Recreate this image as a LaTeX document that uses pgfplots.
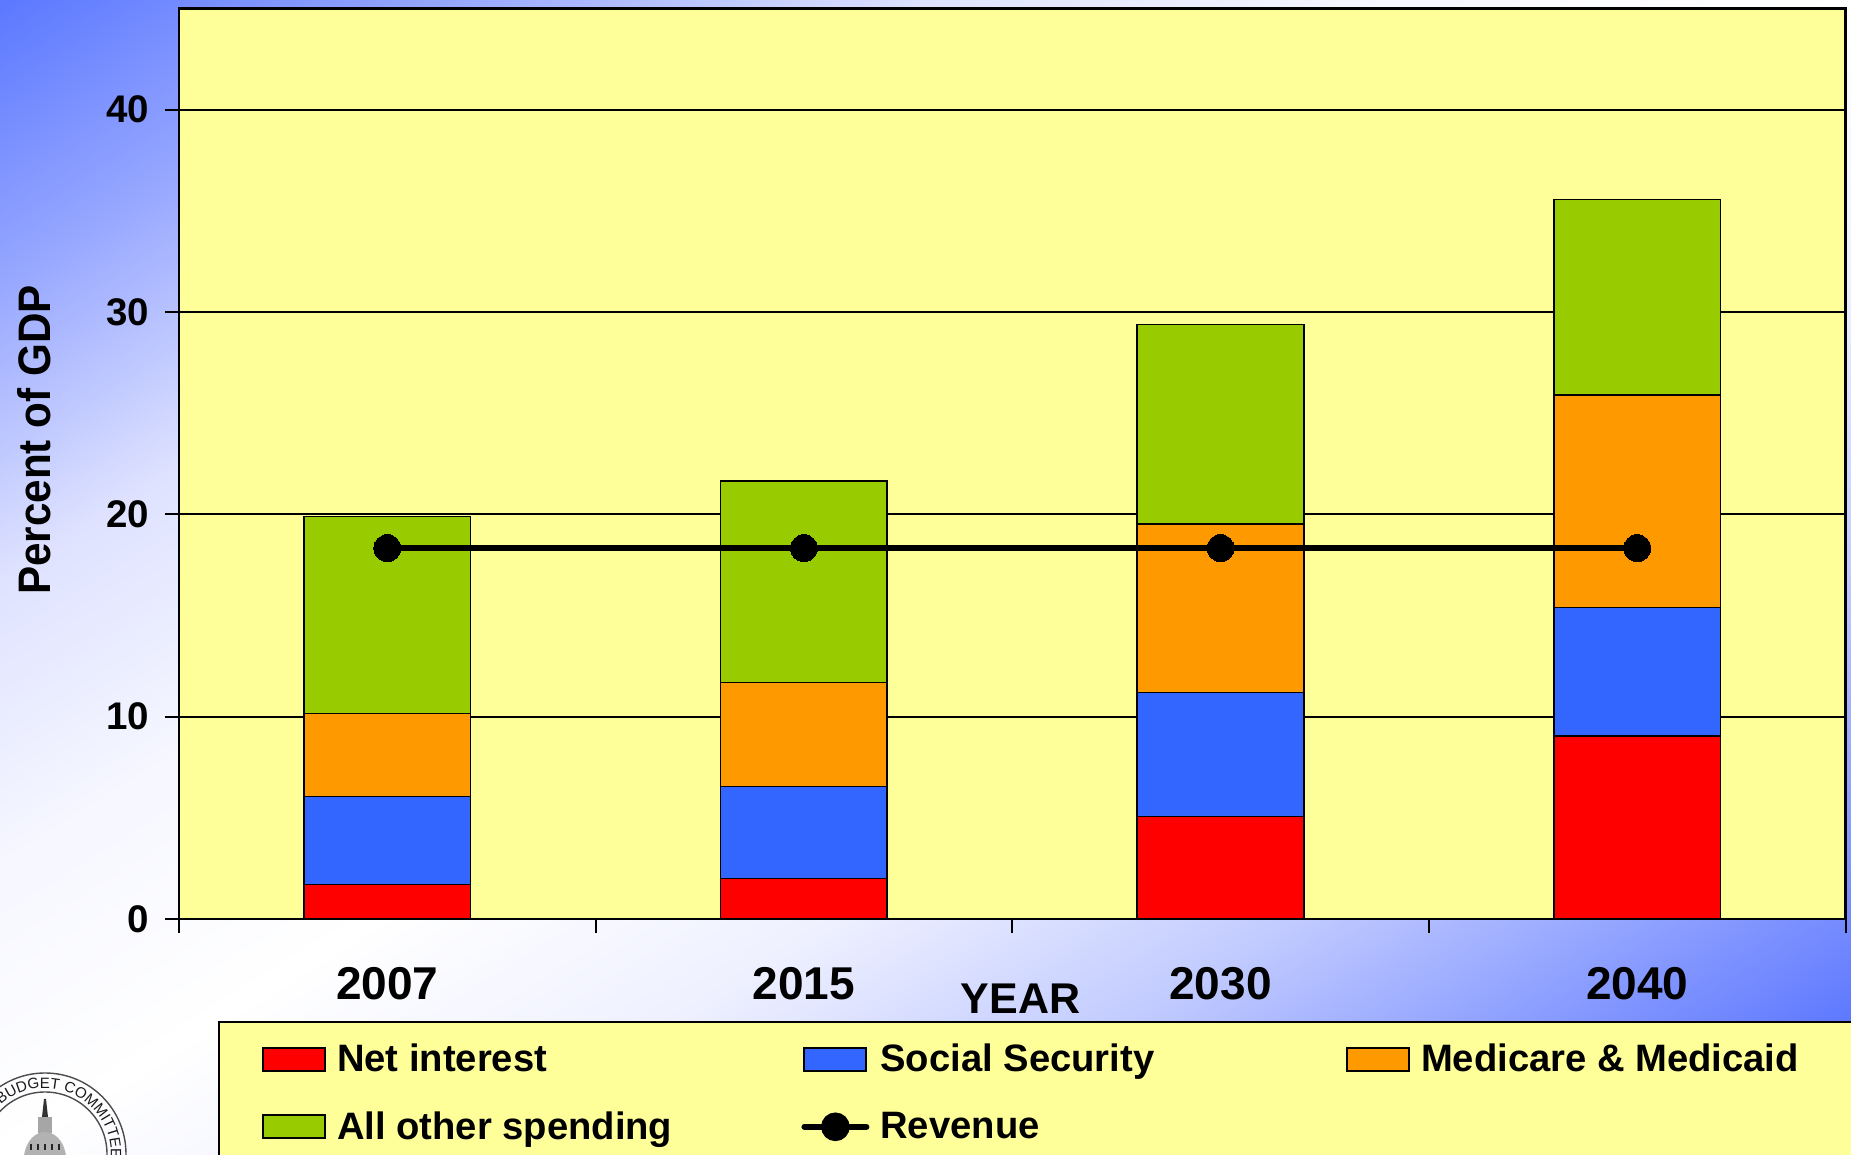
\documentclass[border=0pt]{standalone}
\usepackage{fontspec}
\setmainfont{Liberation Sans}
\usepackage{pgfplots}
\pgfplotsset{compat=1.18}
\usetikzlibrary{decorations.text}
\definecolor{ybg}{HTML}{FFFF99}
\definecolor{cred}{HTML}{FF0000}
\definecolor{cblue}{HTML}{3366FF}
\definecolor{corange}{HTML}{FF9900}
\definecolor{cgreen}{HTML}{99CC00}
\definecolor{s0}{HTML}{5B78FF}
\definecolor{s1}{HTML}{98A8FF}
\definecolor{s2}{HTML}{DEE2FF}
\definecolor{s3}{HTML}{F6F7FF}
\definecolor{s4}{HTML}{FFFFFF}
\definecolor{s5}{HTML}{EEF0FF}
\definecolor{s6}{HTML}{C0CAFF}
\definecolor{s7}{HTML}{8094FF}
\definecolor{s8}{HTML}{4060FF}
\pgfdeclarehorizontalshading{bgshade}{100bp}{color(0bp)=(s0); color(25bp)=(s0); color(31.25bp)=(s1); color(37.5bp)=(s2); color(43.75bp)=(s3); color(50bp)=(s4); color(56.25bp)=(s5); color(62.5bp)=(s6); color(68.75bp)=(s7); color(75bp)=(s8); color(100bp)=(s8)}
\newcommand{\fs}[1]{\fontsize{#1}{#1}\selectfont\bfseries}
\begin{document}
\begin{tikzpicture}
\useasboundingbox (0,0) rectangle (925.5pt,577.5pt);
\clip (0,0) rectangle (925.5pt,577.5pt);
\begin{scope}[transform canvas={shift={(462.75pt,288.75pt)},rotate=-58.04}]
\shade[shading=bgshade] (-490pt,-620pt) rectangle (490pt,620pt);
\end{scope}
% committee seal
\begin{scope}[shift={(0pt,577.5pt)},x=0.5pt,y=-0.5pt]
\draw[black!70,line width=0.7pt] (45,1154) circle (81);
\draw[black!70,line width=0.7pt] (45,1154) circle (62);
\path[decorate,decoration={text along path,text align={fit to path},
  text={|\fontsize{7.5pt}{7.5pt}\selectfont\color{black!90}|BUDGET COMMITTEE}}]
  (45-44.2,1154-49) arc[start angle=-132,end angle=2,radius=66];
\fill[black!80] (42,1117)--(44,1099)--(46,1099)--(48,1117)--cycle;
\fill[black!35] (38,1117) rectangle (52,1133);
\fill[black!30] (24,1156) .. controls (26,1140) and (36,1132) .. (45,1132) .. controls (54,1132) and (64,1140) .. (66,1156) -- cycle;
\foreach \xx in {31,38,45,52,59} \fill[black!85] (\xx-1.2,1144) rectangle (\xx+1.2,1150);
\end{scope}
\begin{axis}[
  at={(89.5pt,118pt)},anchor=south west,
  scale only axis,width=833.25pt,height=455.25pt,
  ybar stacked,reverse stacked plots=false,bar width=0.4,
  xmin=-0.5,xmax=3.5,ymin=0,ymax=45,
  xtick={-0.5,0.5,1.5,2.5,3.5},xticklabels={2007,2015,2030,2040},
  x tick label as interval=true,
  ytick={0,10,20,30,40},
  xtick pos=bottom,ytick pos=left,tick align=outside,
  major tick length=7pt,
  tick style={black,line width=1pt},
  ymajorgrids,grid style={black,line width=1pt},
  axis line style={black,line width=1.1pt},
  axis background/.style={fill=ybg},
  /pgf/number format/assume math mode=true,
  yticklabel style={font=\fs{19.25pt},xshift=-4.5pt},
  xticklabel style={font=\fs{23pt},yshift=-13.5pt},
  xlabel={YEAR},ylabel={\scalebox{1}[1.08]{Percent of GDP}},
  xlabel style={font=\fs{21.5pt},anchor=center,at={(axis description cs:0.505,-0.088)}},
  ylabel style={font=\fs{21.1pt},anchor=center,rotate=0,at={(axis description cs:-0.0868,0.526)}},
  legend columns=3,
  legend cell align=left,
  legend style={at={(axis description cs:0.0234,-0.112)},anchor=north west,
    draw=black,line width=1pt,fill=ybg,font=\fs{19.1pt},
    inner xsep=21.5pt,inner ysep=9pt,row sep=14.4pt,
    /tikz/every odd column/.append style={column sep=3.5pt},
    /tikz/every even column/.append style={column sep=0pt}},
  bars/.style={draw=black,line width=0.8pt,fill=#1,
    legend image code/.code={\draw[draw=black,line width=1pt,fill=#1] (0pt,-5.75pt) rectangle (31pt,5.75pt);}},
]
\addplot[bars=cred] coordinates {(0,1.7) (1,2.0) (2,5.07) (3,9.04)};
\addplot[bars=cblue] coordinates {(0,4.35) (1,4.55) (2,6.13) (3,6.35)};
\addplot[bars=corange] coordinates {(0,4.1) (1,5.13) (2,8.33) (3,10.5)};
\addplot[bars=cgreen] coordinates {(0,9.75) (1,9.97) (2,9.86) (3,9.66)};
\addplot[stack plots=false,sharp plot,bar shift=0pt,black,line width=2.8pt,mark=*,mark size=6.75pt,mark options={fill=black,line width=0pt},
  legend image code/.code={\draw[black,line width=3pt,line cap=round] (0pt,0)--(31pt,0);\fill[black] (15.5pt,0) circle (5.75pt);}]
  coordinates {(0,18.33) (1,18.33) (2,18.33) (3,18.33)};
\legend{\makebox[230.2pt][l]{Net interest},\makebox[230.8pt][l]{Social Security},\makebox[229pt][l]{Medicare \& Medicaid},All other spending,Revenue}
\end{axis}
\end{tikzpicture}
\end{document}
